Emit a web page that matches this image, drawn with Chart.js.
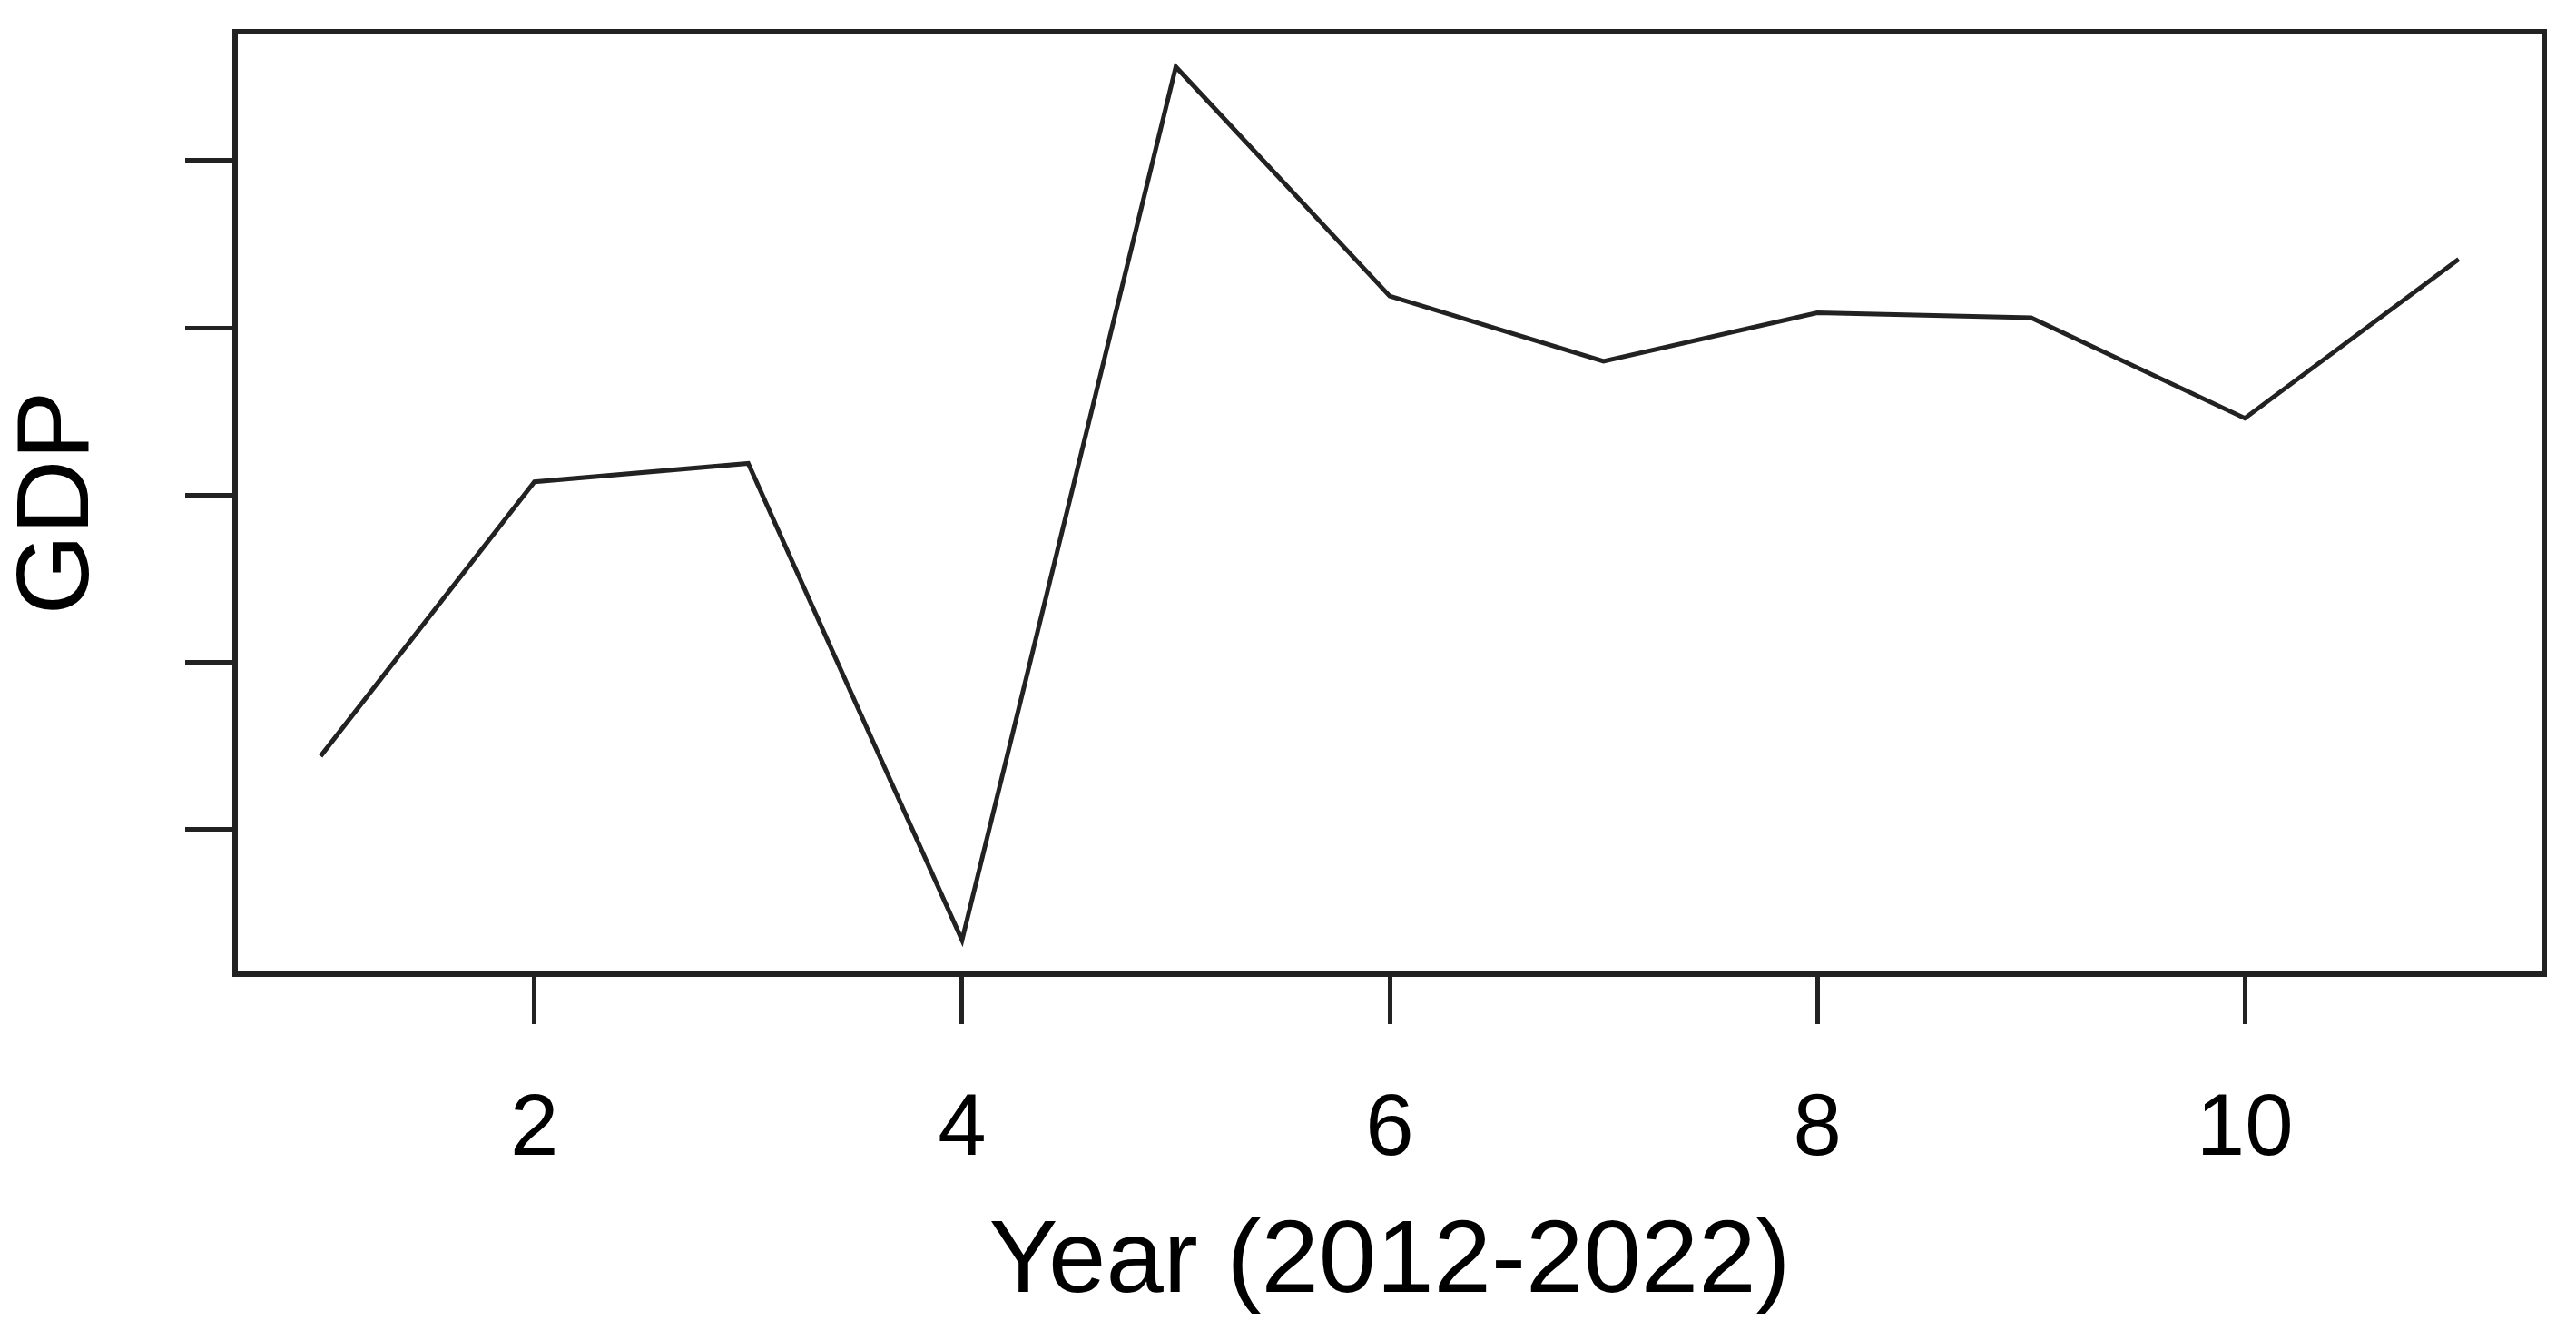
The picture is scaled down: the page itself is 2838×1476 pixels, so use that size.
<!DOCTYPE html>
<html>
<head>
<meta charset="utf-8">
<title>GDP</title>
<script src="https://cdn.jsdelivr.net/npm/chart.js@4/dist/chart.umd.min.js"></script>
<style>
  html, body { margin: 0; padding: 0; background: #fff; }
  canvas { display: block; }
</style>
</head>
<body>
<canvas id="gdpChart" width="2838" height="1476"></canvas>
<script>
// values (y axis has no labels, so the units are arbitrary)
const years = [1, 2, 3, 4, 5, 6, 7, 8, 9, 10, 11];
const gdp = [0.44, 2.08, 2.19, -0.66, 4.56, 3.19, 2.80, 3.09, 3.06, 2.46, 3.41];
const xTicks = [2, 4, 6, 8, 10];
const yTicks = [0, 1, 2, 3, 4];

const ink = '#222';

// R style box round the plot area
const boxPlugin = {
    id: 'box',
    afterDraw(chart) {
        const { ctx, chartArea: a } = chart;
        ctx.save();
        ctx.strokeStyle = ink;
        ctx.lineWidth = 6;
        ctx.strokeRect(a.left, a.top, a.right - a.left, a.bottom - a.top);
        ctx.restore();
    }
};

const ctx = document.getElementById('gdpChart').getContext('2d');
const gdpChart = new Chart(ctx, {
    type: 'line',
    data: {
        datasets: [{
            data: years.map((y, i) => ({ x: y, y: gdp[i] })),
            borderColor: ink,
            borderWidth: 5,
            pointRadius: 0,
            tension: 0,
            fill: false
        }]
    },
    options: {
        responsive: false,
        devicePixelRatio: 1,
        animation: false,
        layout: { padding: { top: 35, right: 35, left: 0, bottom: 0 } },
        plugins: {
            legend: { display: false },
            tooltip: { enabled: false }
        },
        scales: {
            x: {
                type: 'linear',
                min: 0.6,
                max: 11.4,
                afterBuildTicks: (scale) => { scale.ticks = xTicks.map(v => ({ value: v })); },
                afterFit: (scale) => { scale.height = 403; },
                border: { display: false },
                grid: {
                    drawOnChartArea: false,
                    drawTicks: true,
                    tickLength: 55,
                    tickWidth: 5,
                    tickColor: ink
                },
                ticks: {
                    autoSkip: false,
                    maxRotation: 0,
                    padding: 60,
                    color: '#000',
                    font: { family: 'Liberation Sans', size: 96 }
                },
                title: {
                    display: true,
                    text: 'Year (2012-2022)',
                    color: '#000',
                    font: { family: 'Liberation Sans', size: 114, lineHeight: 1 },
                    padding: { top: 0, bottom: 27 }
                }
            },
            y: {
                type: 'linear',
                min: -0.863,
                max: 4.77,
                afterBuildTicks: (scale) => { scale.ticks = yTicks.map(v => ({ value: v })); },
                afterFit: (scale) => { scale.width = 259; },
                border: { display: false },
                grid: {
                    drawOnChartArea: false,
                    drawTicks: true,
                    tickLength: 55,
                    tickWidth: 5,
                    tickColor: ink
                },
                ticks: { display: false },
                title: {
                    display: true,
                    text: 'GDP',
                    color: '#000',
                    font: { family: 'Liberation Sans', size: 114, lineHeight: 1 },
                    padding: { top: 9, bottom: 0 }
                }
            }
        }
    },
    plugins: [boxPlugin]
});
</script>
</body>
</html>
